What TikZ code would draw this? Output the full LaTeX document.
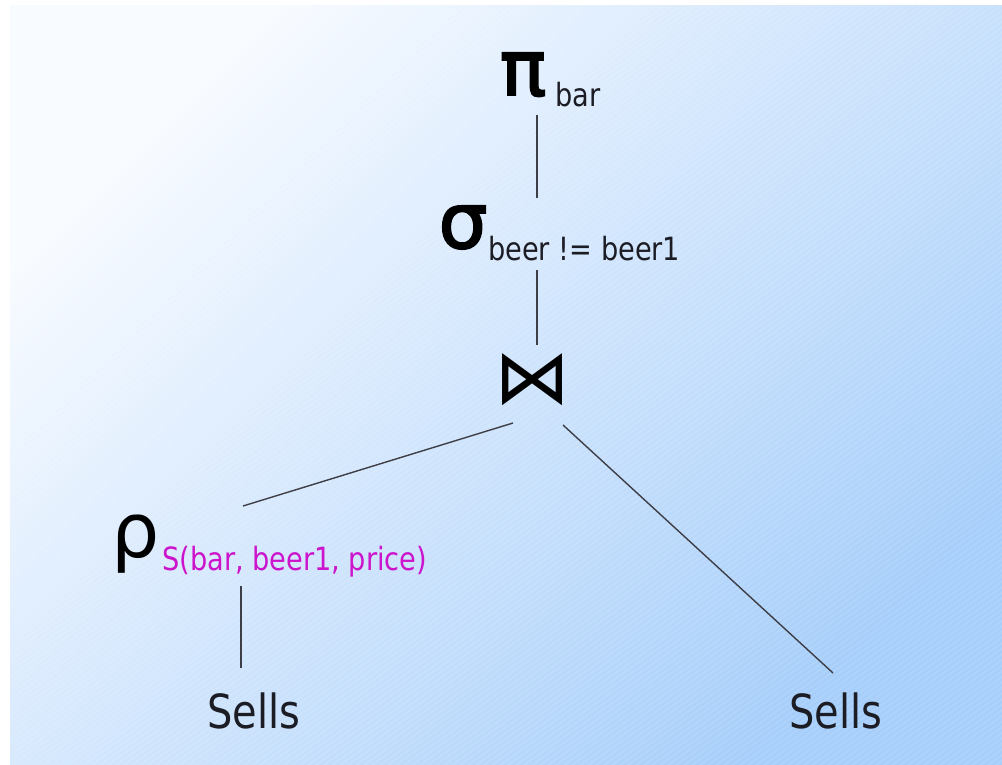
\documentclass[tikz,border=0pt]{standalone}
\usepackage{fontspec}
\usepackage{tikz}
\newfontfamily\labelfont{DejaVu Sans}[FakeStretch=0.85]
\newfontfamily\greekfont{DejaVu Sans}
\newfontfamily\greekboldfont{DejaVu Sans}[FakeBold=2.5]
\definecolor{bgtop}{RGB}{248,251,255}
\definecolor{bgbot}{RGB}{166,206,250}
\definecolor{textgray}{RGB}{28,28,36}
\definecolor{linegray}{RGB}{62,62,70}
\definecolor{rhopink}{RGB}{204,20,204}

\begin{document}
\begin{tikzpicture}[x=1pt, y=-1pt,
  greek/.style={font=\greekfont\fontsize{76}{76}\selectfont, inner sep=0pt, anchor=base, text=black},
  greekbold/.style={greek, font=\greekboldfont\fontsize{77}{77}\selectfont},
  sub/.style={font=\labelfont\fontsize{32}{32}\selectfont, inner sep=0pt, anchor=base west, text=textgray},
  leaf/.style={font=\labelfont\fontsize{47}{47}\selectfont, inner sep=0pt, text=textgray},
  edge/.style={draw=linegray, line width=1.4pt},
  stripe/.style={draw=white, line width=2pt, opacity=0.1}
]
\useasboundingbox (0,0) rectangle (1002,765);
\fill[white] (0,0) rectangle (1002,765);

% ---- background ----
\shade[top color=bgtop, bottom color=bgbot, shading angle=45] (10,6) rectangle (1002,765);
\begin{scope}
  \clip (10,6) rectangle (1002,765);
  \foreach \s in {-1100,-1092,...,1000}
    \draw[stripe] (\s,765) -- ++(1150,-805);
\end{scope}

% ---- operators ----
\node[greekbold] (pi) at (523,95) {π};
\node[sub] (pisub) at (555,107) {bar};
\node[greekbold] (sigma) at (463,248) {σ};
\node[sub] (sigmasub) at (488,260) {beer != beer1};
\node[greek, anchor=center] (join) at (532,380) {⋈};
\node[greek] (rho) at (136,557) {ρ};
\node[sub, text=rhopink] (rhosub) at (162,570) {S(bar, beer1, price)};

% ---- relations ----
\node[leaf] (sellsl) at (254,711) {Sells};
\node[leaf] (sellsr) at (836,711) {Sells};

% ---- edges ----
\draw[edge] ([xshift=14pt,yshift=-20pt]pi.base) -- ([xshift=74pt,yshift=50pt]sigma.base);
\draw[edge] ([xshift=74pt,yshift=-22pt]sigma.base) -- ([xshift=5pt,yshift=35pt]join.center);
\draw[edge] ([xshift=-19pt,yshift=-43pt]join.center) -- ([xshift=107pt,yshift=51pt]rho.base);
\draw[edge] ([xshift=31pt,yshift=-45pt]join.center) -- ([xshift=-3pt,yshift=38pt]sellsr.center);
\draw[edge] ([xshift=105pt,yshift=-29pt]rho.base) -- ([xshift=-13pt,yshift=43pt]sellsl.center);

\end{tikzpicture}
\end{document}
